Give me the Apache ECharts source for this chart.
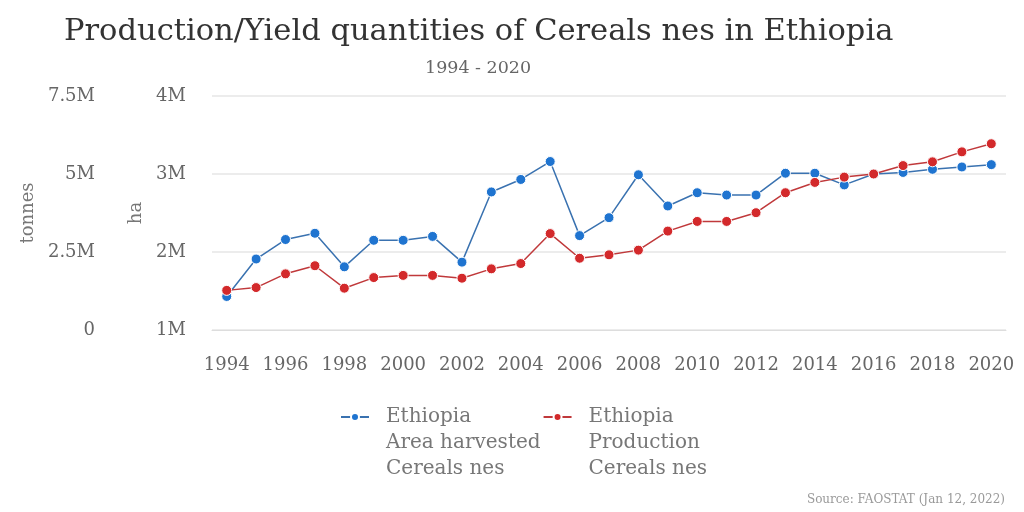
<!DOCTYPE html>
<html>
<head>
<meta charset="utf-8">
<script src="https://cdn.jsdelivr.net/npm/echarts@6/dist/echarts.min.js"></script>
<style>html,body{margin:0;padding:0;background:#fff}#c{width:1024px;height:512px}</style>
</head>
<body>
<div id="c"></div>
<script>
const years = ['1994','1995','1996','1997','1998','1999','2000','2001','2002','2003','2004','2005','2006','2007','2008','2009','2010','2011','2012','2013','2014','2015','2016','2017','2018','2019','2020'];
const areaHarvested = [1.43e6,1.91e6,2.16e6,2.24e6,1.81e6,2.15e6,2.15e6,2.20e6,1.87e6,2.77e6,2.93e6,3.16e6,2.21e6,2.44e6,2.99e6,2.59e6,2.76e6,2.73e6,2.73e6,3.01e6,3.01e6,2.86e6,3.00e6,3.02e6,3.06e6,3.09e6,3.12e6];
const production = [1.27e6,1.36e6,1.80e6,2.06e6,1.34e6,1.68e6,1.75e6,1.75e6,1.66e6,1.96e6,2.13e6,3.09e6,2.30e6,2.41e6,2.56e6,3.17e6,3.48e6,3.48e6,3.76e6,4.40e6,4.73e6,4.90e6,5.00e6,5.27e6,5.39e6,5.71e6,5.97e6];
const titleText = 'Production/Yield quantities of Cereals nes in Ethiopia';
const subtitleText = '1994 - 2020';
const sourceText = 'Source: FAOSTAT (Jan 12, 2022)';
const legendLabels = {
  'Area harvested': '\n\nEthiopia\nArea harvested\nCereals nes',
  'Production': '\n\nEthiopia\nProduction\nCereals nes'
};

function fmt(v){ if (v === 0) return '0'; return (v/1e6) + 'M'; }
const FONT = '"DejaVu Serif", serif';
const chart = echarts.init(document.getElementById('c'));
chart.setOption({
  animation: false,
  textStyle: { fontFamily: FONT },
  title: [
    { text: titleText, left: 59, top: 12, textStyle: { fontFamily: FONT, fontSize: 30.5, fontWeight: 'normal', color: '#333' } },
    { text: subtitleText, left: 420, top: 54, textStyle: { fontFamily: FONT, fontSize: 17.5, fontWeight: 'normal', color: '#666' } },
    { text: sourceText, right: 14, top: 489, textStyle: { fontFamily: FONT, fontSize: 12, fontWeight: 'normal', color: '#999' } }
  ],
  grid: { left: 212, right: 18, top: 96, bottom: 182 },
  legend: {
    left: 335, top: 347, itemGap: 2, itemWidth: 28, itemHeight: 10,
    formatter: n => legendLabels[n],
    textStyle: { fontFamily: FONT, fontSize: 20, color: '#777', lineHeight: 26, padding: [0, 0, 0, 12] }
  },
  xAxis: {
    type: 'category', data: years, boundaryGap: true,
    axisLine: { lineStyle: { color: '#ddd' } },
    axisTick: { alignWithLabel: true, interval: 1, length: 10, lineStyle: { color: '#ddd' } },
    axisLabel: { interval: 1, color: '#666', fontSize: 18, margin: 26, fontFamily: FONT }
  },
  yAxis: [
    { type: 'value', name: 'tonnes', position: 'left', offset: 91, min: 0, max: 7.5e6, interval: 2.5e6,
      nameLocation: 'middle', nameGap: 76, nameTextStyle: { color: '#777', fontSize: 18, fontFamily: FONT },
      axisLabel: { formatter: fmt, color: '#666', fontSize: 18, margin: 26, fontFamily: FONT, padding: [10, 0, 0, 0] },
      axisLine: { show: false }, axisTick: { show: false }, splitLine: { show: false } },
    { type: 'value', name: 'ha', position: 'left', offset: 0, min: 1e6, max: 4e6, interval: 1e6,
      nameLocation: 'middle', nameGap: 64, nameTextStyle: { color: '#777', fontSize: 18, fontFamily: FONT },
      axisLabel: { formatter: fmt, color: '#666', fontSize: 18, margin: 26, fontFamily: FONT, padding: [10, 0, 0, 0] },
      axisLine: { show: false }, axisTick: { show: false }, splitLine: { show: true, lineStyle: { color: '#e6e6e6', width: 1.5 } } }
  ],
  series: [
    { name: 'Area harvested', type: 'line', yAxisIndex: 1, data: areaHarvested,
      symbol: 'circle', symbolSize: 10, z: 2,
      lineStyle: { color: '#3a72b0', width: 1.5 },
      itemStyle: { color: '#1f74d0', borderColor: '#fff', borderWidth: 1 } },
    { name: 'Production', type: 'line', yAxisIndex: 0, data: production,
      symbol: 'circle', symbolSize: 10, z: 3,
      lineStyle: { color: '#c0393b', width: 1.5 },
      itemStyle: { color: '#d3292b', borderColor: '#fff', borderWidth: 1 } }
  ]
});
</script>
</body>
</html>
